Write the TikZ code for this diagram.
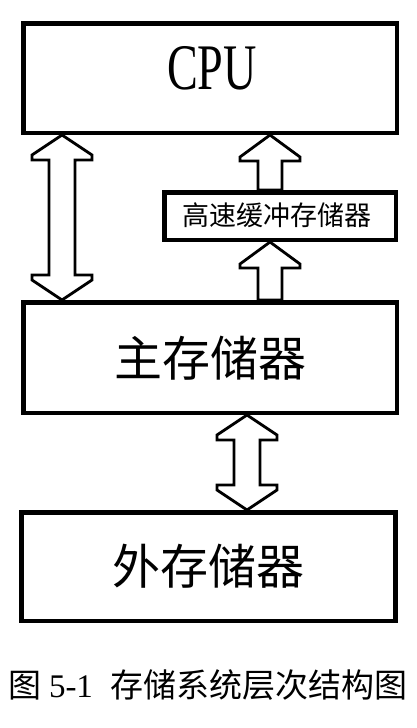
\documentclass[tikz,border=0pt]{standalone}
\usepackage{graphicx}
\usepackage{fontspec}
\setmainfont{Liberation Serif}
\newfontfamily\cjk{Noto Sans CJK SC}
\usetikzlibrary{calc}
\pgfdeclarelayer{bg}
\pgfsetlayers{bg,main}
\tikzset{
  unitbox/.style={draw, line width=4.5pt, rectangle, inner sep=0pt},
  blk/.style={draw, line width=2.8pt, fill=white, line join=miter},
  bigcjk/.style={font=\cjk\fontsize{48}{48}\selectfont, inner sep=0pt},
  smallcjk/.style={font=\cjk\fontsize{27}{27}\selectfont, inner sep=0pt},
}
% double block arrow: #1 top tip, #2 bottom tip
\newcommand\DArrow[2]{%
  \draw[blk] (#1) -- ++(30,20) -- ++(0,5) -- ++(-17,0) -- ($(#2)+(13,-25)$)
    -- ++(17,0) -- ++(0,5) -- (#2) -- ++(-30,-20) -- ++(0,-5) -- ++(17,0)
    -- ($(#1)+(-13,25)$) -- ++(-17,0) -- ++(0,-5) -- cycle;}
% single up block arrow: #1 tip, #2 shaft foot
\newcommand\UArrow[2]{%
  \draw[blk] (#1) -- ++(30,22) -- ++(0,4) -- ++(-18,0) -- ($(#2)+(12,0)$)
    -- ($(#2)+(-12,0)$) -- ($(#1)+(-12,26)$) -- ++(-18,0) -- ++(0,-4) -- cycle;}
\begin{document}
\begin{tikzpicture}[x=1pt,y=-1pt]
\useasboundingbox (0,0) rectangle (416,728);
% boxes
\node[unitbox, minimum width=373.5pt, minimum height=109.5pt] (cpu) at (210,78) {};
\node[font=\fontsize{65}{65}\selectfont, inner sep=0pt] (cputxt) at (212,68.5) {\scalebox{0.71}[1]{CPU}};
\node[unitbox, minimum width=231.5pt, minimum height=47.5pt] (cache) at (280,216) {};
\node[smallcjk] (cachetxt) at (277,215) {高速缓冲存储器};
\node[unitbox, minimum width=373.5pt, minimum height=110.5pt] (main) at (210,357.5) {};
\node[bigcjk] (maintxt) at (210,358.5) {主存储器};
\node[unitbox, minimum width=374pt, minimum height=108.5pt] (ext) at (208.4,566.5) {};
\node[bigcjk] (exttxt) at (208,566.5) {外存储器};
% caption
\node[font=\fontsize{33}{33}\selectfont, inner sep=0pt] (cap) at (208,685)
  {{\cjk 图}\hspace{8pt}5-1\hspace{18pt}{\cjk 存储系统层次结构图}};
% arrow anchor points
\coordinate (xl) at (62,0);
\coordinate (xm) at (247,0);
\coordinate (xr) at (270,0);
\coordinate (l1) at (xl |- cpu.south);
\coordinate (l2) at (xl |- main.north);
\coordinate (r1) at (xr |- cpu.south);
\coordinate (r2) at (xr |- cache.north);
\coordinate (r3) at (xr |- cache.south);
\coordinate (r4) at (xr |- main.north);
\coordinate (m1) at (xm |- main.south);
\coordinate (m2) at (xm |- ext.north);
\begin{pgfonlayer}{bg}
\DArrow{l1}{l2}
\DArrow{m1}{m2}
\UArrow{r1}{r2}
\UArrow{r3}{r4}
\end{pgfonlayer}
\end{tikzpicture}
\end{document}
